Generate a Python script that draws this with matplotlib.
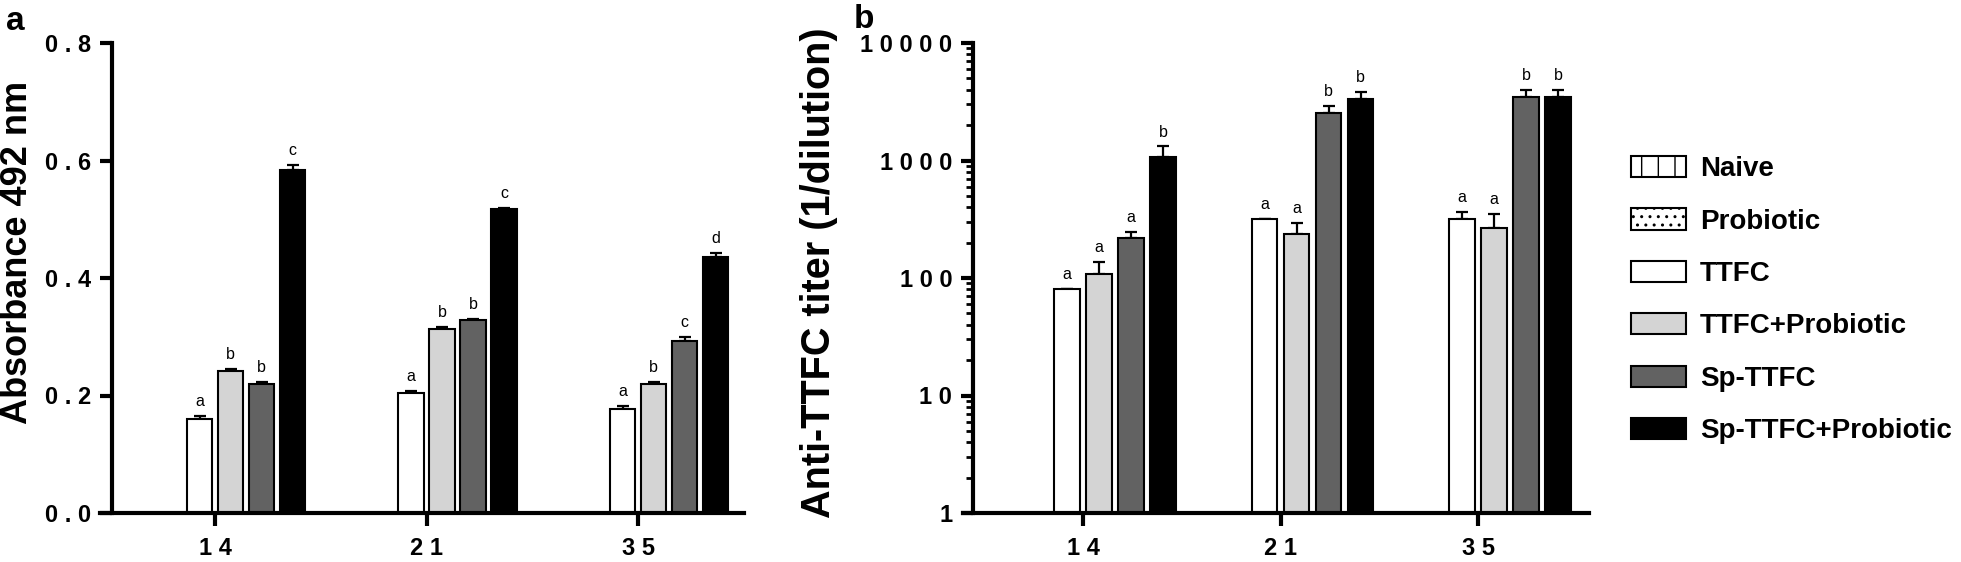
import numpy as np
import matplotlib.pyplot as plt
from matplotlib.patches import Patch
from matplotlib.ticker import LogLocator, FixedLocator

# groups / days
days = ['1 4', '2 1', '3 5']
groups = ['Naive', 'Probiotic', 'TTFC', 'TTFC+Probiotic', 'Sp-TTFC', 'Sp-TTFC+Probiotic']
fills = ['white', 'white', 'white', '#d4d4d4', '#626262', 'black']
hatches = ['|', '..', '', '', '', '']

# a: absorbance 492 nm (Naive and Probiotic have no bars)
abs_ttfc = [0.160, 0.205, 0.177]
abs_ttfc_pro = [0.242, 0.314, 0.220]
abs_sp = [0.220, 0.328, 0.292]
abs_sp_pro = [0.583, 0.517, 0.435]
abs_err_ttfc = [0.005, 0.002, 0.005]
abs_err_ttfc_pro = [0.003, 0.003, 0.003]
abs_err_sp = [0.003, 0.002, 0.007]
abs_err_sp_pro = [0.010, 0.002, 0.008]
abs_letters = [['a', 'b', 'b', 'c'], ['a', 'b', 'b', 'c'], ['a', 'b', 'c', 'd']]

# b: anti-TTFC titer
tit_ttfc = [80, 320, 315]
tit_ttfc_pro = [108, 238, 268]
tit_sp = [217, 2530, 3470]
tit_sp_pro = [1080, 3310, 3470]
tit_err_ttfc = [0, 0, 50]
tit_err_ttfc_pro = [28, 58, 82]
tit_err_sp = [29, 390, 480]
tit_err_sp_pro = [236, 500, 480]
tit_letters = [['a', 'a', 'a', 'b'], ['a', 'a', 'b', 'b'], ['a', 'a', 'b', 'b']]

plt.rcParams['font.family'] = ['Liberation Sans', 'DejaVu Sans']
narrow = ['Liberation Sans Narrow', 'Liberation Sans', 'DejaVu Sans']

fig = plt.figure(figsize=(19.61, 5.62), dpi=100)
W, H = 1961, 562


def px_axes(l, r, top, bot):
    return fig.add_axes([l / W, 1 - bot / H, (r - l) / W, (bot - top) / H])


def style(ax):
    for s in ['top', 'right']:
        ax.spines[s].set_visible(False)
    for s in ['left', 'bottom']:
        ax.spines[s].set_linewidth(3)
    ax.tick_params(axis='both', which='major', width=3, length=9, color='black')
    ax.tick_params(axis='y', pad=6)
    ax.tick_params(axis='x', pad=8)
    for lab in ax.get_xticklabels() + ax.get_yticklabels():
        lab.set_family(narrow)
        lab.set_fontweight('bold')
        lab.set_fontsize(17)


def draw_bars(ax, means, errs, letters, pitch, width, log=False):
    x = np.arange(len(days))
    for k, (m, e) in enumerate(zip(means, errs)):
        gi = k + 2
        off = (gi - 2.5) * pitch
        ax.bar(x + off, m, width, color=fills[gi], edgecolor='black', linewidth=1.5,
               bottom=1 if log else 0, zorder=2)
        top = np.array(m) + (1 if log else 0)
        ax.errorbar(x + off, top, yerr=[np.zeros(3), e], fmt='none', ecolor='black',
                    elinewidth=1.6, capsize=4.5, capthick=1.6, zorder=1)
        for i in range(3):
            ax.annotate(letters[i][k], (x[i] + off, top[i] + e[i]), xytext=(0, 5),
                        textcoords='offset points', ha='center', va='bottom',
                        fontsize=11.5, family=narrow)


# panel a
axa = px_axes(100, 744, 43, 513)
draw_bars(axa, [abs_ttfc, abs_ttfc_pro, abs_sp, abs_sp_pro],
          [abs_err_ttfc, abs_err_ttfc_pro, abs_err_sp, abs_err_sp_pro],
          abs_letters, 0.1466, 0.12)
axa.set_xlim(-0.544, 2.501)
axa.set_ylim(0, 0.8)
axa.spines['left'].set_position(('axes', 12 / 644))
axa.set_yticks([0, 0.2, 0.4, 0.6, 0.8])
axa.set_yticklabels(['0 . 0', '0 . 2', '0 . 4', '0 . 6', '0 . 8'])
axa.set_xticks(range(3))
axa.set_xticklabels(days)
style(axa)
fig.text(18 / W, 1 - 252 / H, 'Absorbance 492 nm', rotation=90, ha='center', va='center',
         fontsize=26, fontweight='bold')
fig.text(15 / W, 1 - 21 / H, 'a', ha='center', va='center', fontsize=24, fontweight='bold')

# panel b
axb = px_axes(963, 1589, 43, 513)
axb.set_yscale('log')
draw_bars(axb, [np.array(tit_ttfc) - 1, np.array(tit_ttfc_pro) - 1,
                np.array(tit_sp) - 1, np.array(tit_sp_pro) - 1],
          [tit_err_ttfc, tit_err_ttfc_pro, tit_err_sp, tit_err_sp_pro],
          tit_letters, 0.162, 0.13, log=True)
axb.set_xlim(-0.608, 2.562)
axb.set_ylim(1, 10000)
axb.spines['left'].set_position(('axes', 10 / 626))
axb.yaxis.set_major_locator(FixedLocator([1, 10, 100, 1000, 10000]))
axb.set_yticklabels(['1', '1 0', '1 0 0', '1 0 0 0', '1 0 0 0 0'])
axb.yaxis.set_minor_locator(LogLocator(base=10, subs=np.arange(2, 10)))
axb.yaxis.set_minor_formatter(plt.NullFormatter())
axb.tick_params(axis='y', which='minor', width=2, length=5)
axb.set_xticks(range(3))
axb.set_xticklabels(days)
style(axb)
fig.text(819 / W, 1 - 273 / H, 'Anti-TTFC titer (1/dilution)', rotation=90, ha='center',
         va='center', fontsize=28.5, fontweight='bold')
fig.text(864 / W, 1 - 20 / H, 'b', ha='center', va='center', fontsize=24, fontweight='bold')

# legend
handles = [Patch(facecolor=fills[i], edgecolor='black', hatch=hatches[i], linewidth=1.5)
           for i in range(len(groups))]
fig.legend(handles, groups, loc='upper left', bbox_to_anchor=(1631 / W, 1 - 156 / H),
           frameon=False, handlelength=1.98, handleheight=0.8, labelspacing=0.94,
           handletextpad=0.5, borderpad=0, borderaxespad=0,
           prop={'size': 20, 'weight': 'bold'})

fig.savefig('out.png', dpi=100)
